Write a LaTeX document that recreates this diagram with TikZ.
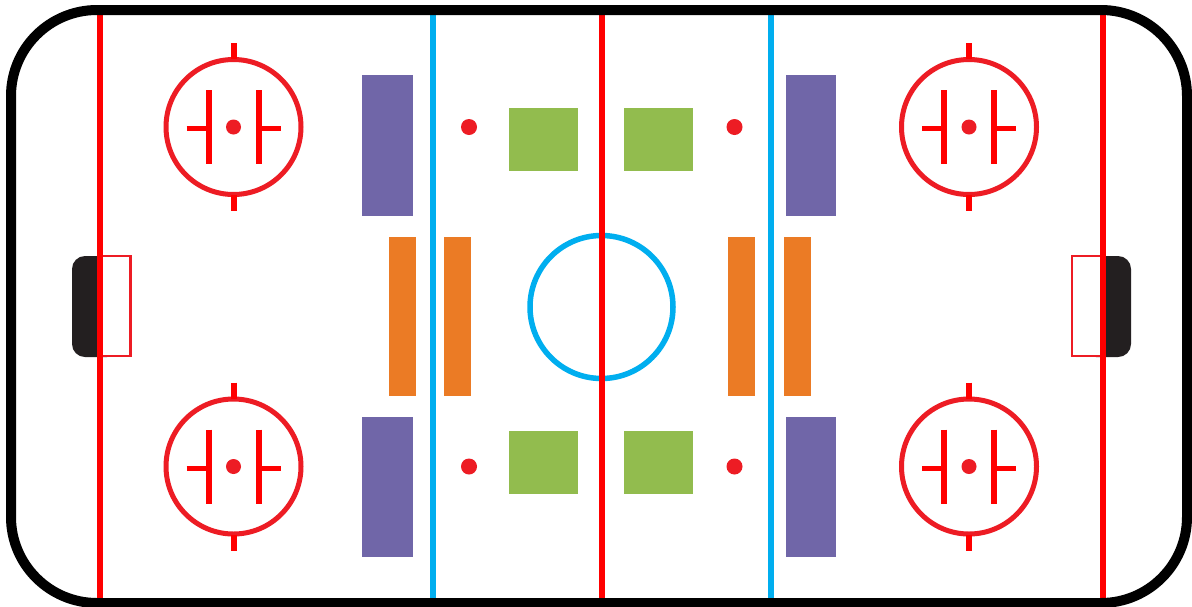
\documentclass[tikz,border=0pt]{standalone}
\usepackage{xcolor}
\definecolor{rinkred}{HTML}{FF0000}
\definecolor{spotred}{HTML}{ED1C24}
\definecolor{rinkblue}{HTML}{00AEEF}
\definecolor{benchpurple}{HTML}{7066A8}
\definecolor{zonegreen}{HTML}{92BC4E}
\definecolor{penorange}{HTML}{EB7B25}
\definecolor{netblack}{HTML}{231F20}
\tikzset{
  boards/.style   = {draw=black, line width=10pt, rounded corners=86pt},
  redline/.style  = {draw=rinkred, line width=6pt},
  blueline/.style = {draw=rinkblue, line width=6pt},
  ring/.style     = {draw=spotred, line width=5pt},
  hashmark/.style = {draw=rinkred, line width=6pt},
  spot/.style     = {fill=spotred},
  bench/.style    = {fill=benchpurple},
  zonebox/.style  = {fill=zonegreen},
  penbox/.style   = {fill=penorange},
  net/.style      = {fill=netblack, rounded corners=13pt},
  crease/.style   = {draw=spotred, line width=2.5pt, fill=white},
  faceoff/.pic = {
    \draw[ring] (0,0) circle[radius=67.5pt];
    \draw[hashmark] (0,-84) -- (0,-68) (0,68) -- (0,84);
    \draw[hashmark] (-25,-37) -- (-25,37) (25,-37) -- (25,37);
    \draw[hashmark, line width=5pt] (-47,1.5) -- (-25,1.5)
                                    (25,1.5) -- (47,1.5);
    \fill[spot] (0,0) circle[radius=7.5pt];
  }
}

\begin{document}
\begin{tikzpicture}[x=1pt, y=-1pt]

\useasboundingbox (0,0) rectangle (1192,606);
\fill[white] (0,0) rectangle (1192,606);

%% ── Nets and creases ─────────────────────────────────
\fill[net] (72,256) rectangle (120,357);
\fill[net] (1083,256) rectangle (1131,357);
\draw[crease] (100,256) rectangle (130.5,356);
\draw[crease] (1072,256) rectangle (1103,356);

%% ── Benches, zones, penalty boxes ────────────────────
\fill[bench] (362,75) rectangle (412.5,216);
\fill[bench] (362,416.5) rectangle (412.5,557);
\fill[bench] (786,75) rectangle (836,216);
\fill[bench] (786,416.5) rectangle (836,557);

\fill[zonebox] (509,108) rectangle (578,171);
\fill[zonebox] (509,431) rectangle (578,493.5);
\fill[zonebox] (624,108) rectangle (693,171);
\fill[zonebox] (624,431) rectangle (693,493.5);

\foreach \xa in {388.5, 443.5, 728, 784}
  \fill[penbox] (\xa,237) rectangle ({\xa+27},395.5);

%% ── Neutral zone spots ───────────────────────────────
\foreach \sx/\sy in {469/127, 469/466.5, 734.5/127, 734.5/466.5}
  \fill[spot] (\sx,\sy) circle[radius=8pt];

%% ── Centre circle and lines ──────────────────────────
\draw[blueline, line width=5.5pt] (601.5,307) circle[radius=71.5pt];
\draw[blueline] (432.5,10) -- (432.5,603);
\draw[blueline] (770.5,10) -- (770.5,603);
\draw[redline] (100,10) -- (100,603);
\draw[redline] (601.5,10) -- (601.5,603);
\draw[redline] (1103,10) -- (1103,603);

%% ── Face-off circles ─────────────────────────────────
\foreach \fx/\fy in {233.5/127, 233.5/466.5, 969/127, 969/466.5}
  \pic at (\fx,\fy) {faceoff};

%% ── Boards ───────────────────────────────────────────
\draw[boards] (11,10) rectangle (1187,603);

\end{tikzpicture}
\end{document}
